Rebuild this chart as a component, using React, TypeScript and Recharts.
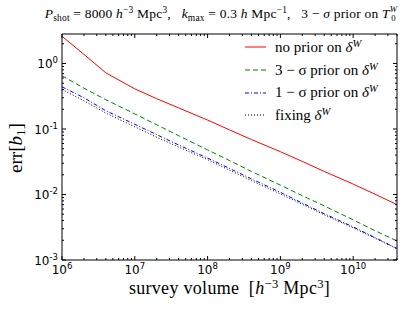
import { LineChart, Line, XAxis, YAxis, Legend } from "recharts";

// survey volume [h^-3 Mpc^3]
const volumes = [1e6, 2e6, 4e6, 1e7, 2e7, 4e7, 1e8, 2e8, 4e8, 1e9, 2e9, 4e9, 1e10, 2e10, 4e10];
// err[b1] for each prior choice
const noPrior = [2.6, 1.38, 0.72, 0.41, 0.29, 0.21, 0.137, 0.097, 0.069, 0.045, 0.032, 0.0225, 0.0144, 0.0101, 0.007];
const prior3 = [0.65, 0.42, 0.28, 0.17, 0.116, 0.079, 0.048, 0.033, 0.0225, 0.0139, 0.0096, 0.0067, 0.0041, 0.0028, 0.00195];
const prior1 = [0.44, 0.3, 0.19, 0.118, 0.082, 0.057, 0.036, 0.025, 0.0173, 0.0108, 0.0074, 0.0051, 0.0032, 0.0022, 0.0015];
const fixing = [0.4, 0.27, 0.175, 0.108, 0.075, 0.053, 0.034, 0.0235, 0.0163, 0.0102, 0.0071, 0.0049, 0.0031, 0.00215, 0.00148];

const xDecades = [6, 7, 8, 9, 10];
const yDecades = [-3, -2, -1, 0];

const series = [
  { key: "noPrior", label: "no prior on ", color: "#ff0000", dash: undefined },
  { key: "prior3", label: "3 \u2212 \u03c3 prior on ", color: "#008000", dash: "5 3" },
  { key: "prior1", label: "1 \u2212 \u03c3 prior on ", color: "#0000ff", dash: "4 2 1 2" },
  { key: "fixing", label: "fixing ", color: "#000000", dash: "1 2" },
];

const data = volumes.map((v, i) => ({
  v,
  noPrior: noPrior[i],
  prior3: prior3[i],
  prior1: prior1[i],
  fixing: fixing[i],
}));

function logTicks(decades: number[], max: number) {
  const out: number[] = [];
  for (const d of decades) {
    for (let m = 1; m <= 9; m++) {
      const t = m * Math.pow(10, d);
      if (t <= max * 1.0001) out.push(t);
    }
  }
  return out;
}

const xTicks = logTicks(xDecades, 4e10);
const yTicks = logTicks(yDecades, 2.82);

const isMajor = (v: number) => {
  const l = Math.log10(v);
  return Math.abs(l - Math.round(l)) < 1e-6;
};

const serif = "'Liberation Serif', 'DejaVu Serif', serif";
const sans = "'DejaVu Sans', sans-serif";

const BottomTick = ({ x, y, payload }: any) => {
  const major = isMajor(payload.value);
  const exp = Math.round(Math.log10(payload.value));
  return (
    <g>
      <line x1={x} y1={y} x2={x} y2={y - (major ? 4 : 2)} stroke="#000" />
      {major && (
        <text x={x} y={y + 14} textAnchor="middle" fontFamily={sans} fontSize={12} fill="#000">
          10<tspan dy={-5} fontSize={8.5}>{exp}</tspan>
        </text>
      )}
    </g>
  );
};

const TopTick = ({ x, y, payload }: any) => {
  const major = isMajor(payload.value);
  return <line x1={x} y1={y} x2={x} y2={y + (major ? 4 : 2)} stroke="#000" />;
};

const LeftTick = ({ x, y, payload }: any) => {
  const major = isMajor(payload.value);
  const exp = Math.round(Math.log10(payload.value));
  return (
    <g>
      <line x1={x} y1={y} x2={x + (major ? 4 : 2)} y2={y} stroke="#000" />
      {major && (
        <text x={x - 4} y={y + 5} textAnchor="end" fontFamily={sans} fontSize={12} fill="#000">
          10<tspan dy={-5} fontSize={8.5}>{exp}</tspan>
        </text>
      )}
    </g>
  );
};

const RightTick = ({ x, y, payload }: any) => {
  const major = isMajor(payload.value);
  return <line x1={x} y1={y} x2={x - (major ? 4 : 2)} y2={y} stroke="#000" />;
};

const sup = { fontSize: "0.7em", verticalAlign: "0.5em", lineHeight: 0 } as const;
const sub = { fontSize: "0.7em", verticalAlign: "-0.25em", lineHeight: 0 } as const;

const renderLegend = () => (
  <div style={{ fontFamily: serif, fontSize: 15, color: "#000" }}>
    {series.map((s) => (
      <div key={s.key} style={{ display: "flex", alignItems: "center", height: 22.7 }}>
        <svg width={35} height={10} style={{ flex: "none" }}>
          <line x1={5} y1={5} x2={26} y2={5} stroke={s.color} strokeWidth={1} strokeDasharray={s.dash} />
        </svg>
        <span style={{ whiteSpace: "nowrap" }}>
          {s.label}
          <i>δ</i>
          <span style={sup}>
            <i>W</i>
          </span>
        </span>
      </div>
    ))}
  </div>
);

export default function App() {
  return (
    <div style={{ position: "absolute", left: 0, top: 0, width: 417, height: 313, background: "#fff" }}>
      <LineChart width={417} height={313} data={data} margin={{ top: 33, right: 19, bottom: 23, left: 0 }}>
        <XAxis
          xAxisId="b"
          dataKey="v"
          type="number"
          scale="log"
          domain={[1e6, 4e10]}
          allowDataOverflow
          ticks={xTicks}
          interval={0}
          tickSize={0}
          tickMargin={0}
          tickLine={false}
          tick={<BottomTick />}
          height={30}
          stroke="#000"
        />
        <XAxis
          xAxisId="t"
          orientation="top"
          dataKey="v"
          type="number"
          scale="log"
          domain={[1e6, 4e10]}
          allowDataOverflow
          ticks={xTicks}
          interval={0}
          tickSize={0}
          tickMargin={0}
          tickLine={false}
          tick={<TopTick />}
          height={1}
          stroke="#000"
        />
        <YAxis
          yAxisId="l"
          type="number"
          scale="log"
          domain={[1e-3, 2.82]}
          allowDataOverflow
          ticks={yTicks}
          interval={0}
          tickSize={0}
          tickMargin={0}
          tickLine={false}
          tick={<LeftTick />}
          width={62}
          stroke="#000"
        />
        <YAxis
          yAxisId="r"
          orientation="right"
          type="number"
          scale="log"
          domain={[1e-3, 2.82]}
          allowDataOverflow
          ticks={yTicks}
          interval={0}
          tickSize={0}
          tickMargin={0}
          tickLine={false}
          tick={<RightTick />}
          width={1}
          stroke="#000"
        />
        <Legend
          layout="vertical"
          align="center"
          verticalAlign="middle"
          content={renderLegend}
          wrapperStyle={{ top: 36, left: 240, width: 175 }}
        />
        {series.map((s) => (
          <Line
            key={s.key}
            xAxisId="b"
            yAxisId="l"
            dataKey={s.key}
            type="linear"
            stroke={s.color}
            strokeWidth={1}
            strokeDasharray={s.dash}
            dot={false}
            isAnimationActive={false}
          />
        ))}
      </LineChart>
      <div
        style={{
          position: "absolute",
          left: 0,
          width: 442,
          top: 5,
          textAlign: "center",
          fontFamily: serif,
          fontSize: 13.5,
          letterSpacing: 0.2,
          whiteSpace: "nowrap",
          color: "#000",
        }}
      >
        <i>P</i>
        <span style={sub}>shot</span> = 8000 <i>h</i>
        <span style={sup}>−3</span> Mpc<span style={sup}>3</span>,&nbsp;&nbsp; <i>k</i>
        <span style={sub}>max</span> = 0.3 <i>h</i> Mpc<span style={sup}>−1</span>,&nbsp;&nbsp; 3 − <i>σ</i> prior on{" "}
        <i>T</i>
        <span style={{ display: "inline-block", verticalAlign: "-0.35em", lineHeight: 1.05, fontSize: "0.65em" }}>
          <span style={{ display: "block" }}>
            <i>W</i>
          </span>
          <span style={{ display: "block" }}>0</span>
        </span>
      </div>
      <div
        style={{
          position: "absolute",
          left: 0,
          width: 459,
          top: 278,
          textAlign: "center",
          fontFamily: serif,
          fontSize: 18,
          letterSpacing: 0.3,
          whiteSpace: "nowrap",
          color: "#000",
        }}
      >
        survey volume&nbsp;&nbsp;[<i>h</i>
        <span style={sup}>−3</span> Mpc<span style={sup}>3</span>]
      </div>
      <div
        style={{
          position: "absolute",
          left: 16,
          top: 148,
          transform: "translate(-50%, -50%) rotate(-90deg)",
          fontFamily: serif,
          fontSize: 19,
          whiteSpace: "nowrap",
          color: "#000",
        }}
      >
        err[<i>b</i>
        <span style={sub}>1</span>]
      </div>
    </div>
  );
}
